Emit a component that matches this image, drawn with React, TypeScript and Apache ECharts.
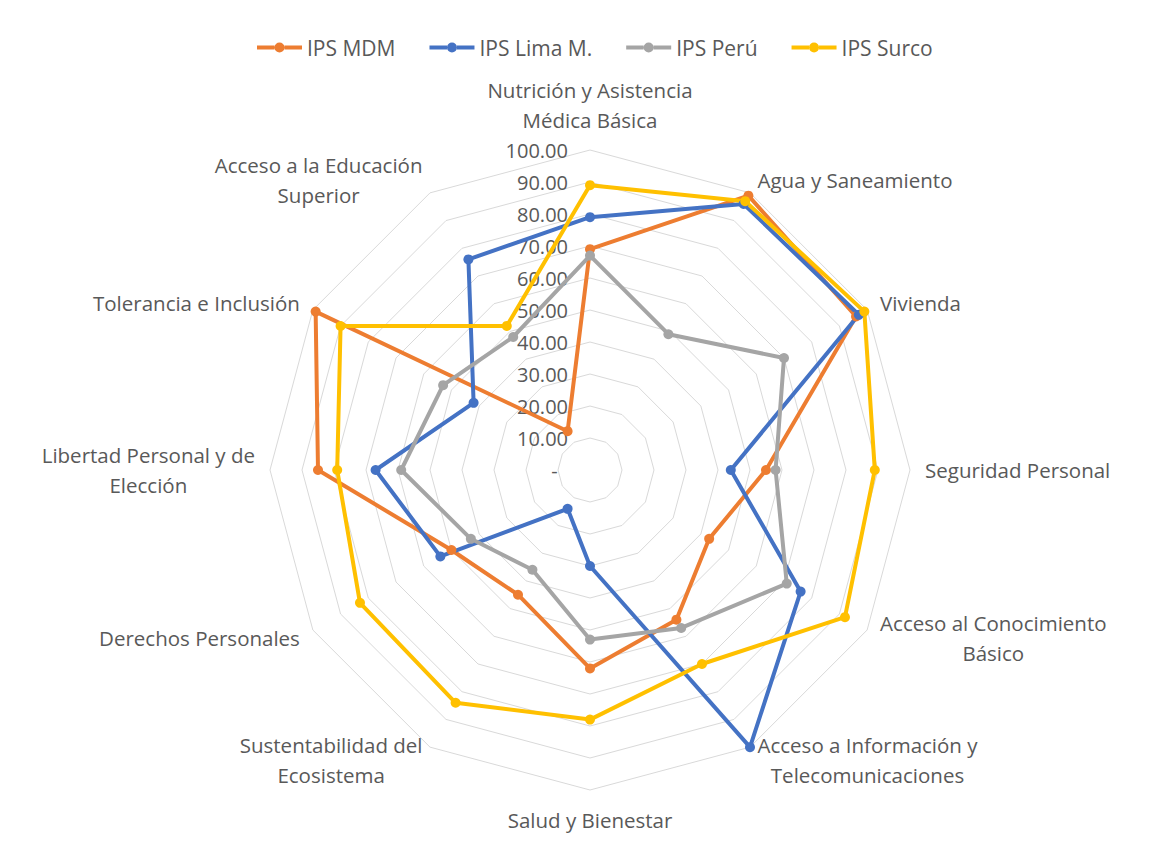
import React, { useEffect, useRef } from "react";
import * as echarts from "echarts";

// Indicators in clockwise order starting from the top
const indicatorNames: string[] = [
  "Nutrición y Asistencia\nMédica Básica",
  "Agua y Saneamiento",
  "Vivienda",
  "Seguridad Personal",
  "Acceso al Conocimiento\nBásico",
  "Acceso a Información y\nTelecomunicaciones",
  "Salud y Bienestar",
  "Sustentabilidad del\nEcosistema",
  "Derechos Personales",
  "Libertad Personal y de\nElección",
  "Tolerancia e Inclusión",
  "Acceso a la Educación\nSuperior",
];

const seriesNames: string[] = ["IPS MDM", "IPS Lima M.", "IPS Perú", "IPS Surco"];
const seriesColors: string[] = ["#ED7D31", "#4472C4", "#A5A5A5", "#FFC000"];

const ipsMDM: number[] = [69, 99, 96, 55, 43, 54, 62, 45, 50, 85, 99, 14];
const ipsLima: number[] = [79, 96, 97, 44, 76, 100, 30, 14, 54, 67, 42, 76];
const ipsPeru: number[] = [67, 49, 70, 58, 71, 57, 53, 36, 43, 59, 53, 48];
const ipsSurco: number[] = [89, 97, 99, 89, 92, 70, 78, 84, 83, 79, 90, 52];

const axisMin = 0;
const axisMax = 100;
const axisSplits = 10;

// ECharts lays radar indicators counter-clockwise; reorder to get clockwise layout
const order: number[] = [0, ...Array.from({ length: indicatorNames.length - 1 }, (_, i) => indicatorNames.length - 1 - i)];

const FONT = "'Open Sans', 'Noto Sans', sans-serif";
const TEXT_COLOR = "#595959";
const NAME_FS = 20.5;
const TICK_FS = 20;
const LEGEND_FS = 21;

export default function App() {
  const ref = useRef<HTMLDivElement>(null);

  useEffect(() => {
    if (!ref.current) return;
    const chart = echarts.init(ref.current, null, { renderer: "svg" });

    const indicator = order.map((idx, k) => {
      const base: any = { name: indicatorNames[idx], min: axisMin, max: axisMax };
      if (k === 0) {
        base.axisLabel = {
          show: true,
          color: TEXT_COLOR,
          fontFamily: FONT,
          fontSize: TICK_FS,
          margin: 22,
          formatter: (v: number) => (v === 0 ? "-\u00a0\u00a0" : v.toFixed(2)),
        };
      }
      return base;
    });

    const allData = [ipsMDM, ipsLima, ipsPeru, ipsSurco];

    const legendIcon =
      "path://M0,3 L17.5,3 L17.5,7 L0,7 Z M27.5,3 L45,3 L45,7 L27.5,7 Z M17.5,5 A5,5 0 1 1 27.5,5 A5,5 0 1 1 17.5,5 Z";

    chart.setOption({
      animation: false,
      backgroundColor: "#ffffff",
      legend: {
        data: seriesNames,
        top: 32,
        left: 252,
        icon: legendIcon,
        itemWidth: 45,
        itemHeight: 10,
        itemGap: 34,
        textStyle: { color: TEXT_COLOR, fontFamily: FONT, fontSize: LEGEND_FS },
      },
      radar: {
        center: [590, 470],
        radius: 320,
        startAngle: 90,
        splitNumber: axisSplits,
        shape: "polygon",
        nameGap: 15,
        axisName: {
          color: TEXT_COLOR,
          fontFamily: FONT,
          fontSize: NAME_FS,
          lineHeight: 30,
          formatter: (name: string) =>
            name
              .split("\n")
              .map((l) => `{c|${l}}`)
              .join("\n"),
          rich: {
            c: {
              align: "center",
              color: TEXT_COLOR,
              fontFamily: FONT,
              fontSize: NAME_FS,
              lineHeight: 30,
            },
          },
        },
        axisLine: { show: false },
        splitLine: { show: true, lineStyle: { color: "#D9D9D9", width: 1 } },
        splitArea: { show: false },
        axisTick: { show: false },
        axisLabel: { show: false },
        indicator,
      },
      series: [
        {
          type: "radar",
          symbol: "circle",
          symbolSize: 10,
          data: allData.map((vals, s) => ({
            name: seriesNames[s],
            value: order.map((i) => vals[i]),
            lineStyle: { color: seriesColors[s], width: 4 },
            itemStyle: { color: seriesColors[s] },
          })),
        },
      ],
    });

    return () => chart.dispose();
  }, []);

  return (
    <div
      ref={ref}
      style={{ position: "fixed", left: 0, top: 0, width: 1161, height: 868 }}
    />
  );
}
